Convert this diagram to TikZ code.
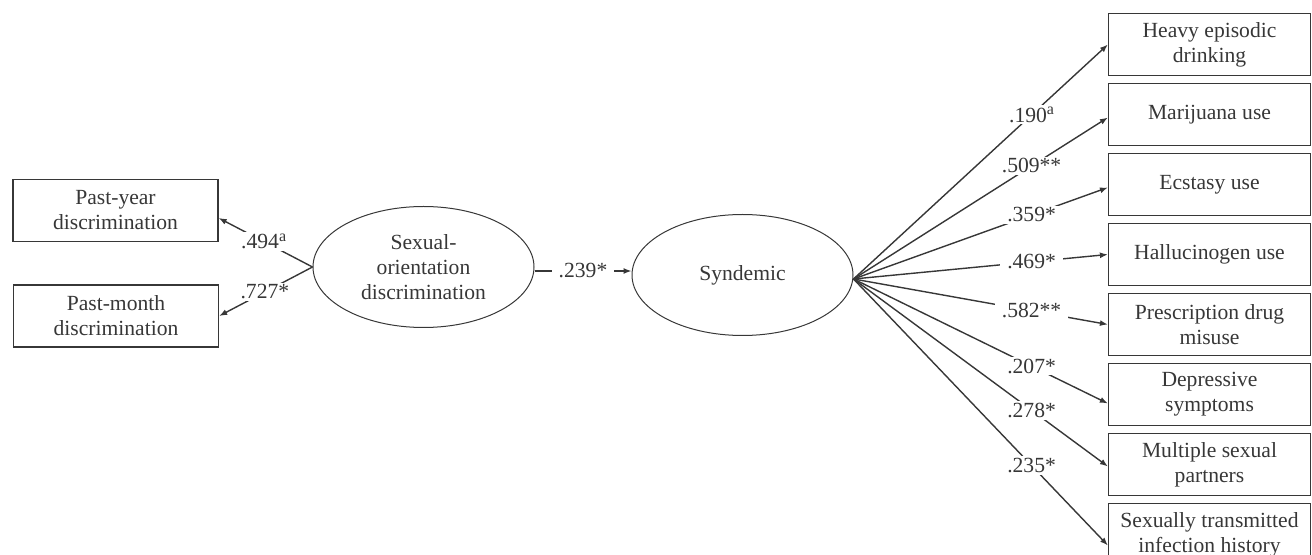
\documentclass[tikz,border=0pt]{standalone}
\usepackage{fontspec}
\setmainfont{Liberation Serif}
\usetikzlibrary{shapes.geometric}
\usetikzlibrary{positioning}
\usetikzlibrary{arrows.meta}
\definecolor{ink}{RGB}{55,55,55}
\newcommand{\supa}{\raisebox{3.6pt}{\fontsize{8}{8}\selectfont a}}

\begin{document}
\begin{tikzpicture}[x=0.5pt,y=-0.5pt,
  every node/.style={text=ink,font=\fontsize{10.8}{12.5}\selectfont},
  obs/.style={draw=ink,line width=0.6pt,rectangle,minimum width=101pt,minimum height=31pt,align=center,inner sep=1pt},
  lat/.style={draw=ink,line width=0.5pt,ellipse,minimum width=110.5pt,minimum height=60.5pt,align=center,inner sep=0pt},
  loadarrow/.style={draw=ink,line width=0.7pt,-{Latex[length=4pt,width=3pt]}},
  coef/.style={fill=white,inner xsep=3.5pt,inner ysep=1pt}]
\useasboundingbox (0,0) rectangle (1312,555);

% indicators of discrimination
\node[obs,minimum width=102.5pt] (pastyear) at (115.5,210.5) {Past-year\\discrimination};
\node[obs,minimum width=102.5pt] (pastmonth) at (116,316) {Past-month\\discrimination};

% latent variables
\node[lat] (sod) at (423.5,267) {Sexual-\\orientation\\discrimination};
\node[lat] (synd) at (742.5,275) {Syndemic};

% syndemic indicators
\node[obs] (heavy) at (1209.5,44.5) {Heavy episodic\\drinking};
\node[obs,below=3.4pt of heavy] (marij) {Marijuana use};
\node[obs,below=3.4pt of marij] (ecst) {Ecstasy use};
\node[obs,below=3.4pt of ecst] (hallu) {Hallucinogen use};
\node[obs,below=3.4pt of hallu] (presc) {Prescription drug\\misuse};
\node[obs,below=3.4pt of presc] (depr) {Depressive\\symptoms};
\node[obs,below=3.4pt of depr] (multi) {Multiple sexual\\partners};
\node[obs,below=3.4pt of multi] (sti) {Sexually transmitted\\infection history};

\draw[loadarrow] (sod.west) -- node[coef,pos=0.52]{.494\supa} ([yshift=-3.75pt]pastyear.east);
\draw[loadarrow] (sod.west) -- node[coef,pos=0.51]{.727*} (pastmonth.east);
\draw[loadarrow] ([yshift=-2pt]sod.east) -- node[coef,pos=0.5]{.239*} ([yshift=2pt]synd.west);

\coordinate (fan) at ([yshift=-2pt]synd.east);
\foreach \target/\val/\shift in {heavy/.190\supa/0, marij/.509**/-1.5,
    ecst/.359*/-1.5, hallu/.469*/0, presc/.582**/0, depr/.207*/-4.5,
    multi/.278*/-1, sti/.235*/-5.5}
  \draw[loadarrow] (fan) -- node[coef,pos=0.7]{\val} ([yshift=\shift pt]\target.west);
\end{tikzpicture}
\end{document}
